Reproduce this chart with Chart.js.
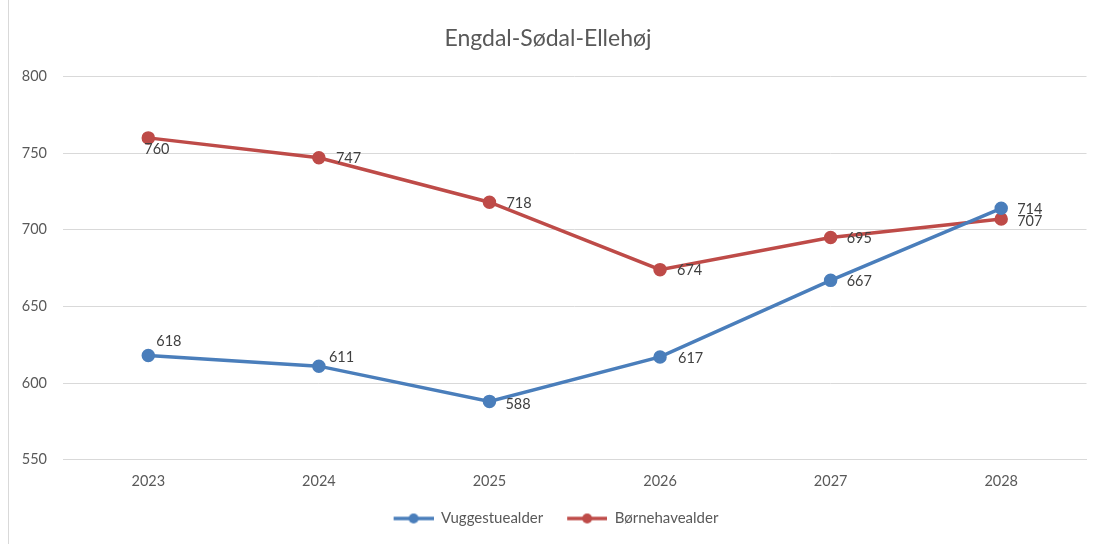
<!DOCTYPE html>
<html><head><meta charset="utf-8">
<script src="https://cdn.jsdelivr.net/npm/chart.js@4/dist/chart.umd.min.js"></script>
<style>
html,body{margin:0;padding:0;background:#fff;}
#wrap{position:relative;width:1095px;height:544px;}
#border{position:absolute;left:8px;top:0;width:1px;height:544px;background:#d9d9d9;}
</style></head>
<body><div id="wrap"><div id="border"></div><canvas id="c" width="1095" height="544"></canvas></div>
<script>
const categories = ['2023','2024','2025','2026','2027','2028'];
const vuggestue = [618, 611, 588, 617, 667, 714];
const boernehave = [760, 747, 718, 674, 695, 707];
const seriesNames = ['Vuggestuealder', 'Børnehavealder'];
const yTicks = [550, 600, 650, 700, 750, 800];

const BLUE = '#4a7ebb', RED = '#be4b48';
const FONT = 'Lato, "Open Sans", sans-serif';

function legendIcon(color){
  const c = document.createElement('canvas');
  c.width = 56; c.height = 12;
  const g = c.getContext('2d');
  g.strokeStyle = color; g.lineWidth = 3.5;
  g.beginPath(); g.moveTo(16,6); g.lineTo(56,6); g.stroke();
  g.fillStyle = color; g.beginPath(); g.arc(36,6,5,0,Math.PI*2); g.fill();
  return c;
}

// label placement offsets (dx, dy, align) per dataset/point
const labelPlacement = [
  [[8,-14,'left'],[10,-9,'left'],[16,3,'left'],[18,1,'left'],[16,1,'left'],[16,1,'left']],
  [[-4,11,'left'],[17,1,'left'],[17,1,'left'],[17,1,'left'],[16,1,'left'],[16,2,'left']]
];

const labelPlugin = {
  id:'pointLabels',
  afterDatasetsDraw(chart){
    const ctx = chart.ctx;
    ctx.save();
    ctx.font = '14.5px ' + FONT;
    ctx.fillStyle = '#404040';
    ctx.textBaseline = 'middle';
    chart.data.datasets.forEach((ds, di) => {
      const meta = chart.getDatasetMeta(di);
      meta.data.forEach((pt, i) => {
        const p = labelPlacement[di][i];
        ctx.textAlign = p[2];
        ctx.fillText(String(ds.data[i]), pt.x + p[0], pt.y + p[1]);
      });
    });
    ctx.restore();
  }
};

new Chart(document.getElementById('c'), {
  type:'line',
  data:{
    labels: categories,
    datasets:[
      {label: seriesNames[0], data: vuggestue, borderColor: BLUE, backgroundColor: BLUE,
       borderWidth:3.5, pointRadius:5, pointHoverRadius:5, pointStyle:'circle', tension:0},
      {label: seriesNames[1], data: boernehave, borderColor: RED, backgroundColor: RED,
       borderWidth:3.5, pointRadius:5, pointHoverRadius:5, pointStyle:'circle', tension:0}
    ]
  },
  options:{
    responsive:false, animation:false,
    layout:{padding:{left:8, right:7, top:19, bottom:8}},
    plugins:{
      title:{display:true, text:'Engdal-Sødal-Ellehøj', color:'#595959',
        font:{family:FONT, size:23, weight:'normal'}, padding:{top:6, bottom:24}},
      legend:{position:'bottom', labels:{
        color:'#595959', font:{family:FONT, size:15}, usePointStyle:true, pointStyleWidth:56, padding:8,
        generateLabels(chart){
          return chart.data.datasets.map((ds,i)=>({
            text: ds.label, pointStyle: legendIcon(ds.borderColor),
            fillStyle: ds.borderColor, strokeStyle: ds.borderColor, lineWidth:0,
            datasetIndex:i, hidden:false, fontColor:'#595959'
          }));
        }
      }},
      tooltip:{enabled:false}
    },
    scales:{
      x:{
        offset:true,
        grid:{display:false, drawTicks:false},
        border:{display:true, color:'#d9d9d9', width:1},
        ticks:{color:'#595959', font:{family:FONT, size:14.5}, padding:13}
      },
      y:{
        min:550, max:800,
        afterBuildTicks(axis){ axis.ticks = yTicks.map(v=>({value:v})); },
        afterFit(axis){ axis.width = 55; },
        grid:{color:'#d9d9d9', drawTicks:false},
        border:{display:false},
        ticks:{color:'#595959', font:{family:FONT, size:14.5}, padding:16}
      }
    }
  },
  plugins:[labelPlugin]
});
</script></body></html>
